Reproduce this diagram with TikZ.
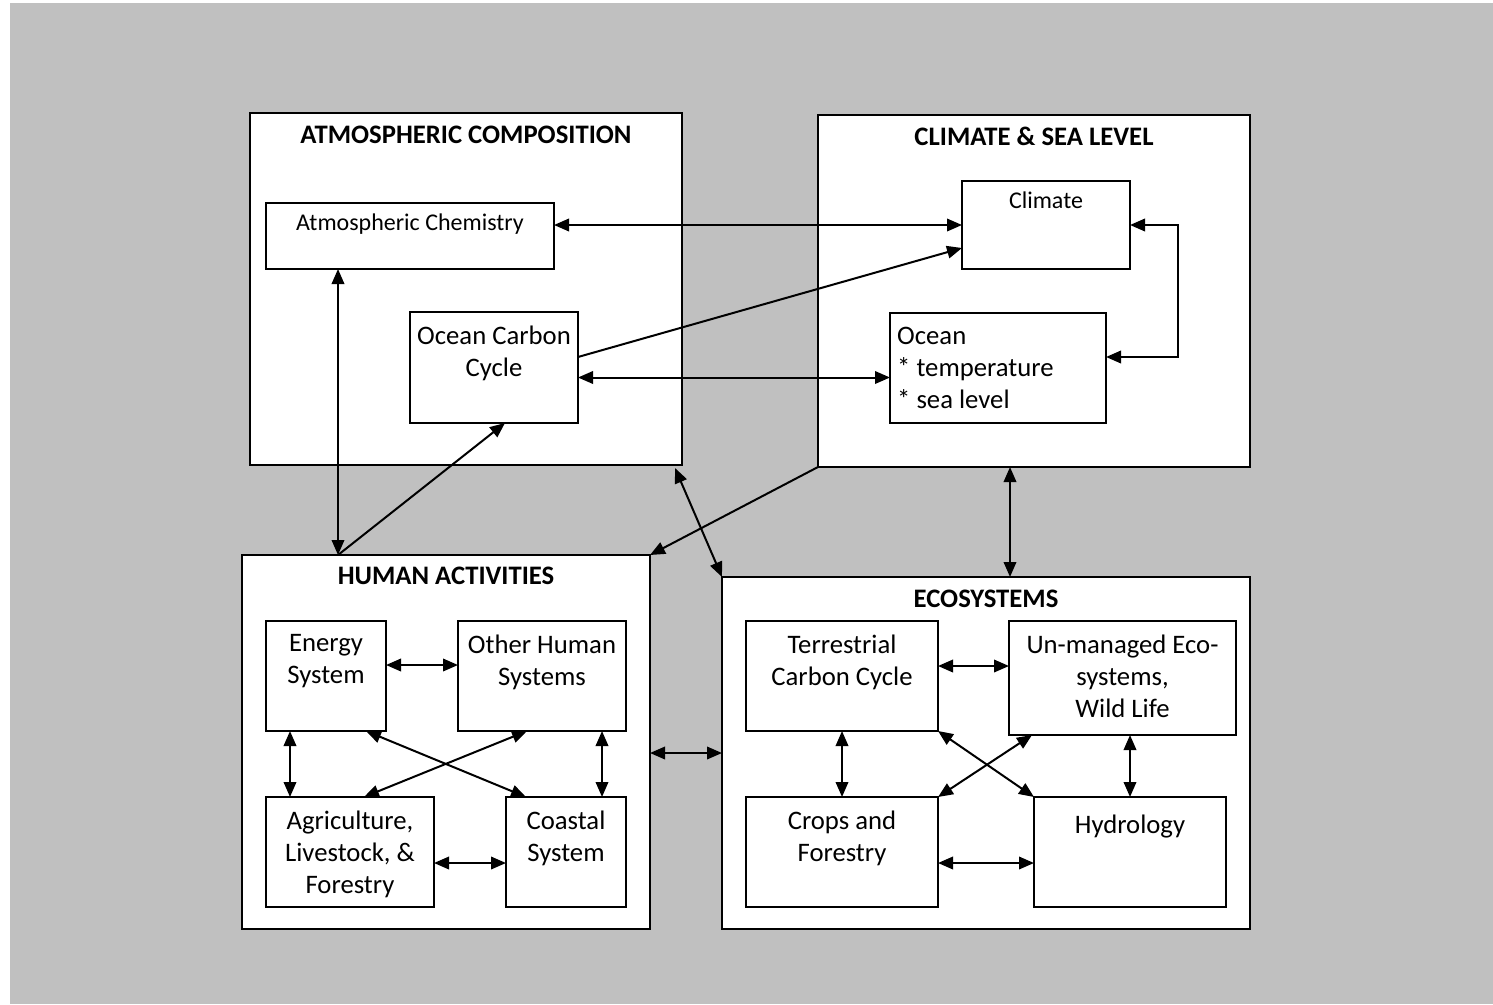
\documentclass[tikz,border=0pt]{standalone}
\usepackage{fontspec}
\setmainfont{Carlito}
\usetikzlibrary{arrows.meta,calc}

\definecolor{panelgray}{HTML}{C0C0C0}

\tikzset{
  frame/.style={draw, line width=2pt, fill=white, anchor=north west,
                inner sep=0pt, outer sep=0pt},
  grouptitle/.style={anchor=base, inner sep=0pt,
                font=\fontsize{26.7}{32}\selectfont\bfseries},
  boxtext/.style={anchor=north, inner sep=0pt, align=center,
                font=\fontsize{26.7}{32}\selectfont, execute at begin node=\strut},
  smalltext/.style={anchor=north, inner sep=0pt, align=center,
                font=\fontsize{24}{29}\selectfont, execute at begin node=\strut},
  tip/.tip={Triangle[length=15pt,width=12.5pt]},
  arr/.style={line width=2pt, -tip},
  darr/.style={line width=2pt, tip-tip},
}

\begin{document}
\begin{tikzpicture}[x=1pt,y=-1pt]
\useasboundingbox[fill=white] (0,0) rectangle (1493,1004);
\fill[panelgray] (10,3) rectangle (1493,1004);

% ---- group frames ----
\node[frame, minimum width=432pt, minimum height=352pt] (atm)   at (250,113) {};
\node[frame, minimum width=432pt, minimum height=352pt] (clim)  at (818,115) {};
\node[frame, minimum width=408pt, minimum height=374pt] (human) at (242,555) {};
\node[frame, minimum width=528pt, minimum height=352pt] (eco)   at (722,577) {};

\node[grouptitle] (atmT)   at ($(atm.north)+(0,30)$)   {ATMOSPHERIC COMPOSITION};
\node[grouptitle] (climT)  at ($(clim.north)+(0,30)$)  {CLIMATE \& SEA LEVEL};
\node[grouptitle] (humanT) at ($(human.north)+(0,29)$) {HUMAN ACTIVITIES};
\node[grouptitle] (ecoT)   at ($(eco.north)+(0,30)$)   {ECOSYSTEMS};

% ---- inner boxes ----
\node[frame, minimum width=288pt, minimum height=66pt]  (chem)    at (266,203)  {};
\node[frame, minimum width=168pt, minimum height=111pt] (occ)     at (410,312)  {};
\node[frame, minimum width=168pt, minimum height=88pt]  (climate) at (962,181)  {};
\node[frame, minimum width=216pt, minimum height=110pt] (ocean)   at (890,313)  {};

\node[frame, minimum width=120pt, minimum height=110pt] (energy)  at (266,621)  {};
\node[frame, minimum width=168pt, minimum height=110pt] (other)   at (458,621)  {};
\node[frame, minimum width=168pt, minimum height=110pt] (agri)    at (266,797)  {};
\node[frame, minimum width=120pt, minimum height=110pt] (coastal) at (506,797)  {};

\node[frame, minimum width=192pt, minimum height=110pt] (terr)    at (746,621)  {};
\node[frame, minimum width=227pt, minimum height=114pt] (unman)   at (1009,621) {};
\node[frame, minimum width=192pt, minimum height=110pt] (crops)   at (746,797)  {};
\node[frame, minimum width=192pt, minimum height=110pt] (hydro)   at (1034,797) {};

% ---- box labels ----
\node[smalltext] (chemT)    at ($(chem.north)+(0,7)$)      {Atmospheric Chemistry};
\node[boxtext]   (occT)     at ($(occ.north)+(0,13.5)$)    {Ocean Carbon\\Cycle};
\node[smalltext] (climateT) at ($(climate.north)+(0,7)$)   {Climate};
\node[boxtext, anchor=north west, align=left] (oceanT) at ($(ocean.north west)+(7,13.5)$)
      {Ocean\\* temperature\\* sea level};

\node[boxtext] (energyT)  at ($(energy.north)+(0,13.5)$)  {Energy\\System};
\node[boxtext] (otherT)   at ($(other.north)+(0,13.5)$)   {Other Human\\Systems};
\node[boxtext] (agriT)    at ($(agri.north)+(0,13.5)$)    {Agriculture,\\Livestock, \&\\Forestry};
\node[boxtext] (coastalT) at ($(coastal.north)+(0,13.5)$) {Coastal\\System};

\node[boxtext] (terrT)    at ($(terr.north)+(0,13.5)$)    {Terrestrial\\Carbon Cycle};
\node[boxtext] (unmanT)   at ($(unman.north)+(0,13.5)$)   {Un-managed Eco-\\systems,\\Wild Life};
\node[boxtext] (cropsT)   at ($(crops.north)+(0,13.5)$)   {Crops and\\Forestry};
\node[boxtext] (hydroT)   at ($(hydro.north)+(0,13.5)$)   {Hydrology};

% ---- links between the groups ----
\draw[darr] (chem.east |- climate.west) -- (climate.west);
\draw[arr] ($(occ.north east)+(0,45)$) -- ($(climate.south west)+(0,-21)$);
\coordinate (oc1) at ($(occ.east)+(0,10)$);
\draw[darr] (oc1) -- (oc1 -| ocean.west);
\draw[darr] (climate.east) -- ++(48,0) |- ($(ocean.east)+(0,-11)$);

\coordinate (hTop) at ($(human.north west)+(96,0)$);
\draw[darr] (chem.south -| hTop) -- (hTop);
\draw[arr] (hTop) -- ($(occ.south)+(11,0)$);
\draw[darr] ($(atm.south east)+(-7,3)$) -- (eco.north west);
\draw[arr] (clim.south west) -- (human.north east);
\coordinate (c1) at ($(clim.south)+(-24,0)$);
\draw[darr] (c1) -- (c1 |- eco.north);
\draw[darr] (eco.west -| human.east) -- (eco.west);

% ---- links inside human activities ----
\coordinate (e1) at ($(energy.east)+(0,-11)$);
\draw[darr] (e1) -- (e1 -| other.west);
\coordinate (e2) at ($(energy.south west)+(24,0)$);
\draw[darr] (e2) -- (e2 |- agri.north);
\coordinate (o2) at ($(other.south east)+(-24,0)$);
\draw[darr] (o2) -- (o2 |- coastal.north);
\coordinate (a1) at ($(agri.east)+(0,11)$);
\draw[darr] (a1) -- (a1 -| coastal.west);
\draw[darr] ($(energy.south east)+(-20,0)$) -- ($(coastal.north west)+(20,0)$);
\draw[darr] ($(other.south west)+(69,0)$) -- ($(agri.north east)+(-70,0)$);

% ---- links inside ecosystems ----
\coordinate (t1) at ($(terr.east)+(0,-10)$);
\draw[darr] (t1) -- (t1 -| unman.west);
\draw[darr] (terr.south) -- (crops.north);
\draw[darr] (unman.south -| hydro.north) -- (hydro.north);
\coordinate (k1) at ($(crops.east)+(0,11)$);
\draw[darr] (k1) -- (k1 -| hydro.west);
\draw[darr] (terr.south east) -- (hydro.north west);
\draw[darr] ($(unman.south west)+(23,0)$) -- (crops.north east);
\end{tikzpicture}
\end{document}
